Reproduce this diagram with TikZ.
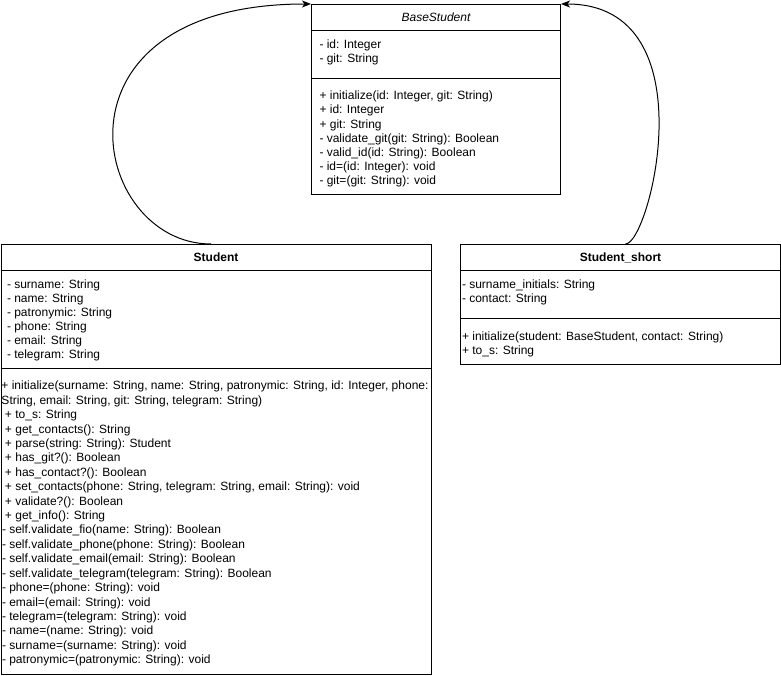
\documentclass[tikz,border=0pt]{standalone}
\usepackage{fontspec}
\setmainfont{Liberation Sans}
\usetikzlibrary{arrows.meta,positioning}

\begin{document}
\begin{tikzpicture}[x=1pt,y=-1pt,line width=1pt,
        classbox/.style={draw,anchor=north west,inner sep=0pt},
        title/.style={inner sep=0pt,font=\fontsize{12}{14.4}\selectfont},
        member/.style={anchor=west,inner sep=0pt,text height=9pt,text depth=2.5pt,
            font=\fontsize{12}{14.4}\selectfont},
        inherit/.style={-{Stealth[length=9pt,width=7pt,inset=2.5pt]}}]
        \useasboundingbox (0,0) rectangle (781,675);

        % class boxes
        \node[classbox,minimum width=249,minimum height=190] (base) at (311,4) {};
        \node[classbox,minimum width=430,minimum height=430] (student) at (0.5,244) {};
        \node[classbox,minimum width=320,minimum height=120] (short) at (460,244) {};

        \draw ([yshift=-26pt]base.north west) -- ([yshift=-26pt]base.north east);
        \draw ([yshift=-74pt]base.north west) -- ([yshift=-74pt]base.north east);
        \draw ([yshift=-26pt]student.north west) -- ([yshift=-26pt]student.north east);
        \draw ([yshift=-124pt]student.north west) -- ([yshift=-124pt]student.north east);
        \draw ([yshift=-26pt]short.north west) -- ([yshift=-26pt]short.north east);
        \draw ([yshift=-74pt]short.north west) -- ([yshift=-74pt]short.north east);

        \node[title] (base-t) at ([yshift=-13.5pt]base.north) {\itshape BaseStudent};
        \node[title] (student-t) at ([yshift=-13.5pt]student.north) {\bfseries Student};
        \node[title] (short-t) at ([yshift=-13.5pt]short.north) {\bfseries Student\_short};

        % BaseStudent
        \foreach \t [count=\i from 0] in
            {{- id: Integer},
             {- git: String}}
            \node[member] (base-a\i) at ([xshift=8pt,yshift=-41.5pt-14pt*\i]base.north west) {\t};
        \foreach \t [count=\i from 0] in
            {{+ initialize(id: Integer, git: String)},
             {+ id: Integer},
             {+ git: String},
             {- validate\_git(git: String): Boolean},
             {- valid\_id(id: String): Boolean},
             {- id=(id: Integer): void},
             {- git=(git: String): void}}
            \node[member] (base-m\i) at ([xshift=8pt,yshift=-92.5pt-14.2pt*\i]base.north west) {\t};

        % Student
        \foreach \t [count=\i from 0] in
            {{- surname: String},
             {- name: String},
             {- patronymic: String},
             {- phone: String},
             {- email: String},
             {- telegram: String}}
            \node[member] (student-a\i) at ([xshift=6pt,yshift=-41.5pt-14pt*\i]student.north west) {\t};
        \foreach \dx/\t [count=\i from 0] in
            {0.5/{+ initialize(surname: String, name: String, patronymic: String, id: Integer, phone:},
             0.5/{String, email: String, git: String, telegram: String)},
             4/{+ to\_s: String},
             4/{+ get\_contacts(): String},
             4/{+ parse(string: String): Student},
             4/{+ has\_git?(): Boolean},
             4/{+ has\_contact?(): Boolean},
             4/{+ set\_contacts(phone: String, telegram: String, email: String): void},
             4/{+ validate?(): Boolean},
             4/{+ get\_info(): String},
             1/{- self.validate\_fio(name: String): Boolean},
             1/{- self.validate\_phone(phone: String): Boolean},
             1/{- self.validate\_email(email: String): Boolean},
             1/{- self.validate\_telegram(telegram: String): Boolean},
             1/{- phone=(phone: String): void},
             1/{- email=(email: String): void},
             1/{- telegram=(telegram: String): void},
             1/{- name=(name: String): void},
             1/{- surname=(surname: String): void},
             1/{- patronymic=(patronymic: String): void}}
            \node[member] (student-m\i) at ([xshift=\dx pt,yshift=-142.5pt-14.42pt*\i]student.north west) {\t};

        % Student_short
        \foreach \t [count=\i from 0] in
            {{- surname\_initials: String},
             {- contact: String}}
            \node[member] (short-a\i) at ([xshift=1.5pt,yshift=-41.5pt-14pt*\i]short.north west) {\t};
        \foreach \t [count=\i from 0] in
            {{+ initialize(student: BaseStudent, contact: String)},
             {+ to\_s: String}}
            \node[member] (short-m\i) at ([xshift=1.5pt,yshift=-93pt-14pt*\i]short.north west) {\t};

        % inheritance
        \draw[inherit] ([xshift=-5pt]student.north) .. controls (90,244) and (40,4) .. (base.north west);
        \draw[inherit] ([xshift=5pt]short.north) .. controls (650,244) and (710,4) .. (base.north east);
\end{tikzpicture}
\end{document}
